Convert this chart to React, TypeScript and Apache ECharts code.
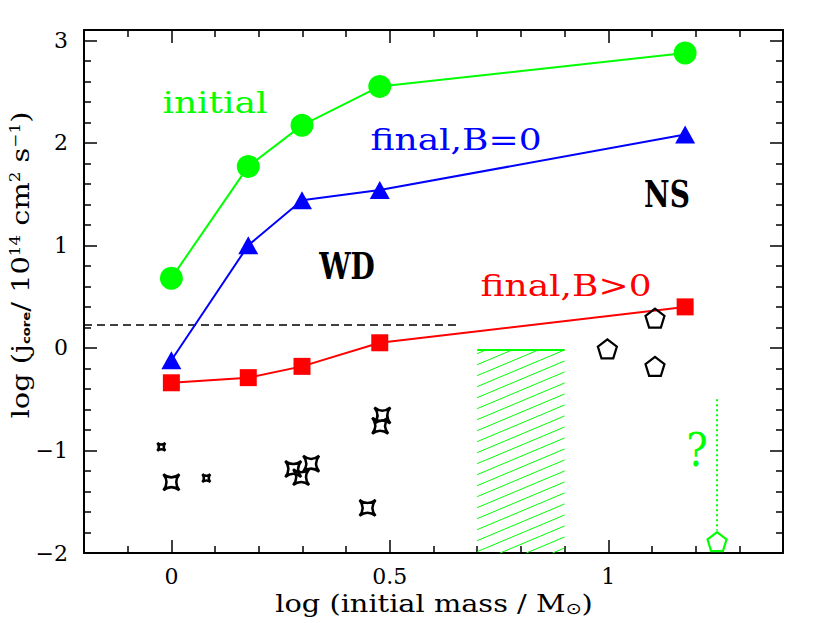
import React, { useEffect, useRef } from "react";
import * as echarts from "echarts";

// ---- data ----
const initialPts: number[][] = [
  [0.0, 0.68], [0.176, 1.77], [0.299, 2.17], [0.477, 2.55], [1.176, 2.875],
];
const finalB0Pts: number[][] = [
  [0.0, -0.12], [0.176, 1.0], [0.299, 1.44], [0.477, 1.54], [1.176, 2.08],
];
const finalBPts: number[][] = [
  [0.0, -0.34], [0.176, -0.29], [0.299, -0.18], [0.477, 0.05], [1.176, 0.40],
];
const bigStars: number[][] = [
  [0.0, -1.31], [0.279, -1.18], [0.32, -1.13], [0.297, -1.26],
  [0.483, -0.66], [0.478, -0.76], [0.449, -1.56],
];
const smallStars: number[][] = [
  [-0.023, -0.965], [0.08, -1.27],
];
const nsPentagons: number[][] = [
  [0.998, -0.01], [1.107, 0.29], [1.107, -0.18],
];
const greenPentagon: number[][] = [[1.249, -1.89]];
const dottedLine: number[][] = [[1.249, -0.5], [1.249, -1.78]];
const dashedLine: number[][] = [[-0.2, 0.224], [0.652, 0.224]];
const hatchRegion: number[][] = [[0.7, 0.9, -0.02, -2.0]];

const X_MAJOR = [0, 0.5, 1];
const X_MINOR = [-0.1, 0.1, 0.2, 0.3, 0.4, 0.6, 0.7, 0.8, 0.9, 1.1, 1.2, 1.3];
const Y_MAJOR = [-2, -1, 0, 1, 2, 3];
const Y_MINOR = [
  -1.8, -1.6, -1.4, -1.2, -0.8, -0.6, -0.4, -0.2, 0.2, 0.4, 0.6, 0.8,
  1.2, 1.4, 1.6, 1.8, 2.2, 2.4, 2.6, 2.8,
];

const GREEN = "#00ff00";
const BLUE = "#0000ff";
const RED = "#ff0000";
const SERIF = "DejaVu Serif";

const STAR_PATH =
  "path://M-7,-7 Q0,-1.5 7,-7 Q1.5,0 7,7 Q0,1.5 -7,7 Q-1.5,0 -7,-7 Z";
const PENTA_PATH =
  "path://M0,-10 L9.51,-3.09 L5.88,8.09 L-5.88,8.09 L-9.51,-3.09 Z";

export default function App() {
  const ref = useRef<HTMLDivElement>(null);

  useEffect(() => {
    if (!ref.current) return;
    const chart = echarts.init(ref.current, undefined, { renderer: "svg" });

    const axisLineStyle = { color: "#000", width: 2 };
    const mkX = (position: string, values: number[], len: number, labels: boolean, line: boolean) => ({
      type: "value",
      min: -0.2,
      max: 1.4,
      position,
      splitLine: { show: false },
      axisLine: { show: line, onZero: false, lineStyle: axisLineStyle },
      axisTick: { show: true, inside: true, length: len, customValues: values, lineStyle: { color: "#000", width: 1.5 } },
      axisLabel: labels
        ? {
            show: true,
            customValues: X_MAJOR,
            formatter: (v: number) => String(v),
            fontFamily: SERIF,
            fontSize: 22,
            color: "#000",
            margin: 12,
          }
        : { show: false },
    });
    const mkY = (position: string, values: number[], len: number, labels: boolean, line: boolean) => ({
      type: "value",
      min: -2,
      max: 3.1,
      position,
      splitLine: { show: false },
      axisLine: { show: line, onZero: false, lineStyle: axisLineStyle },
      axisTick: { show: true, inside: true, length: len, customValues: values, lineStyle: { color: "#000", width: 1.5 } },
      axisLabel: labels
        ? {
            show: true,
            customValues: Y_MAJOR,
            formatter: (v: number) => String(v).replace("-", "\u2212"),
            fontFamily: SERIF,
            fontSize: 22,
            color: "#000",
            margin: 16,
          }
        : { show: false },
    });

    const hatchRender = (params: any, api: any) => {
      const x0 = api.value(0), x1 = api.value(1), yT = api.value(2), yB = api.value(3);
      const tl = api.coord([x0, yT]);
      const br = api.coord([x1, yB]);
      const left = tl[0], top = tl[1], right = br[0], bottom = br[1];
      const w = right - left;
      const s = 0.42;
      const gap = 11;
      const children: any[] = [];
      const cStart = top + s * w;
      let k = -Math.ceil((s * w) / gap);
      for (; ; k++) {
        const c = cStart + k * gap;
        if (c > bottom + s * w) break;
        const u0 = Math.max(0, (c - bottom) / s);
        const u1 = Math.min(w, (c - top) / s);
        if (u1 > u0) {
          children.push({
            type: "line",
            shape: { x1: left + u0, y1: c - s * u0, x2: left + u1, y2: c - s * u1 },
            style: { stroke: GREEN, lineWidth: 1 },
          });
        }
      }
      children.push({
        type: "line",
        shape: { x1: left, y1: top, x2: right, y2: top },
        style: { stroke: GREEN, lineWidth: 2 },
      });
      return { type: "group", children };
    };

    const hollow = (c: string, w: number) => ({ color: "rgba(0,0,0,0)", borderColor: c, borderWidth: w, opacity: 1 });

    const option: any = {
      animation: false,
      backgroundColor: "#fff",
      grid: { left: 84, right: 50, top: 30, bottom: 70, containLabel: false },
      xAxis: [
        mkX("bottom", X_MAJOR, 13, true, true),
        mkX("bottom", X_MINOR, 7, false, false),
        mkX("top", X_MAJOR, 13, false, true),
        mkX("top", X_MINOR, 7, false, false),
      ],
      yAxis: [
        mkY("left", Y_MAJOR, 13, true, true),
        mkY("left", Y_MINOR, 7, false, false),
        mkY("right", Y_MAJOR, 13, false, true),
        mkY("right", Y_MINOR, 7, false, false),
      ],
      series: [
        {
          type: "custom",
          xAxisIndex: 0,
          yAxisIndex: 0,
          data: hatchRegion,
          encode: { x: [0, 1], y: [2, 3] },
          renderItem: hatchRender,
          silent: true,
          z: 1,
        },
        {
          type: "line",
          data: dashedLine,
          symbol: "none",
          lineStyle: { color: "#000", width: 1.5, type: [8, 5] },
          z: 2,
        },
        {
          type: "line",
          data: dottedLine,
          symbol: "none",
          lineStyle: { color: GREEN, width: 2, type: [2, 3] },
          z: 2,
        },
        {
          type: "line",
          name: "initial",
          data: initialPts,
          symbol: "circle",
          symbolSize: 23,
          itemStyle: { color: GREEN },
          lineStyle: { color: GREEN, width: 2 },
          z: 3,
        },
        {
          type: "line",
          name: "final,B=0",
          data: finalB0Pts,
          symbol: "triangle",
          symbolSize: [20, 18],
          itemStyle: { color: BLUE },
          lineStyle: { color: BLUE, width: 2 },
          z: 3,
        },
        {
          type: "line",
          name: "final,B>0",
          data: finalBPts,
          symbol: "rect",
          symbolSize: 17,
          itemStyle: { color: RED },
          lineStyle: { color: RED, width: 2 },
          z: 3,
        },
        {
          type: "scatter",
          data: bigStars,
          symbol: STAR_PATH,
          symbolSize: 16,
          itemStyle: hollow("#000", 2.5),
          z: 3,
        },
        {
          type: "scatter",
          data: smallStars,
          symbol: STAR_PATH,
          symbolSize: 8,
          itemStyle: hollow("#000", 2.5),
          z: 3,
        },
        {
          type: "scatter",
          data: nsPentagons,
          symbol: PENTA_PATH,
          symbolSize: 19,
          itemStyle: hollow("#000", 2.2),
          z: 3,
        },
        {
          type: "scatter",
          data: greenPentagon,
          symbol: PENTA_PATH,
          symbolSize: 19,
          itemStyle: hollow(GREEN, 2.2),
          z: 3,
        },
      ],
      graphic: [
        {
          type: "text", x: 215, y: 103, scaleX: 1.2,
          style: { text: "initial", font: `30px "${SERIF}"`, fill: GREEN, align: "center", verticalAlign: "middle" },
        },
        {
          type: "text", x: 456, y: 140, scaleX: 1.2,
          style: { text: "final,B=0", font: `30px "${SERIF}"`, fill: BLUE, align: "center", verticalAlign: "middle" },
        },
        {
          type: "text", x: 566, y: 286, scaleX: 1.2,
          style: { text: "final,B>0", font: `30px "${SERIF}"`, fill: RED, align: "center", verticalAlign: "middle" },
        },
        {
          type: "text", x: 347, y: 267, scaleX: 1.0, scaleY: 1.3,
          style: { text: "WD", font: `bold 28px "${SERIF}"`, fill: "#000", align: "center", verticalAlign: "middle" },
        },
        {
          type: "text", x: 667, y: 195, scaleX: 1.0, scaleY: 1.3,
          style: { text: "NS", font: `bold 28px "${SERIF}"`, fill: "#000", align: "center", verticalAlign: "middle" },
        },
        {
          type: "text", x: 697, y: 450, scaleY: 1.15,
          style: { text: "?", font: `40px "${SERIF}"`, fill: GREEN, align: "center", verticalAlign: "middle" },
        },
        {
          type: "text", x: 434, y: 603, scaleX: 1.2,
          style: {
            text: "log (initial mass / M{sub|\u2299})",
            font: `24px "${SERIF}"`,
            fill: "#000",
            align: "center",
            verticalAlign: "middle",
            rich: {
              sub: { fontFamily: "DejaVu Sans", fontSize: 16, verticalAlign: "bottom", fill: "#000", padding: [12, 0, 0, 0] },
            },
          },
        },
        {
          type: "text", x: 20, y: 265, rotation: Math.PI / 2, scaleX: 1.2,
          style: {
            text: "log (j{sub|core}/ 10{sup|14} cm{sup|2} s{sup|\u22121})",
            font: `24px "${SERIF}"`,
            fill: "#000",
            align: "center",
            verticalAlign: "middle",
            rich: {
              sub: { fontFamily: "DejaVu Sans", fontWeight: "bold", fontSize: 11, fill: "#000", verticalAlign: "bottom", padding: [12, 0, 0, 0] },
              sup: { fontFamily: SERIF, fontSize: 14, fill: "#000", verticalAlign: "top", padding: [0, 0, 10, 0] },
            },
          },
        },
      ],
    };

    chart.setOption(option);
    return () => chart.dispose();
  }, []);

  return (
    <div
      ref={ref}
      style={{ position: "fixed", left: 0, top: 0, width: 833, height: 623, background: "#fff" }}
    />
  );
}
